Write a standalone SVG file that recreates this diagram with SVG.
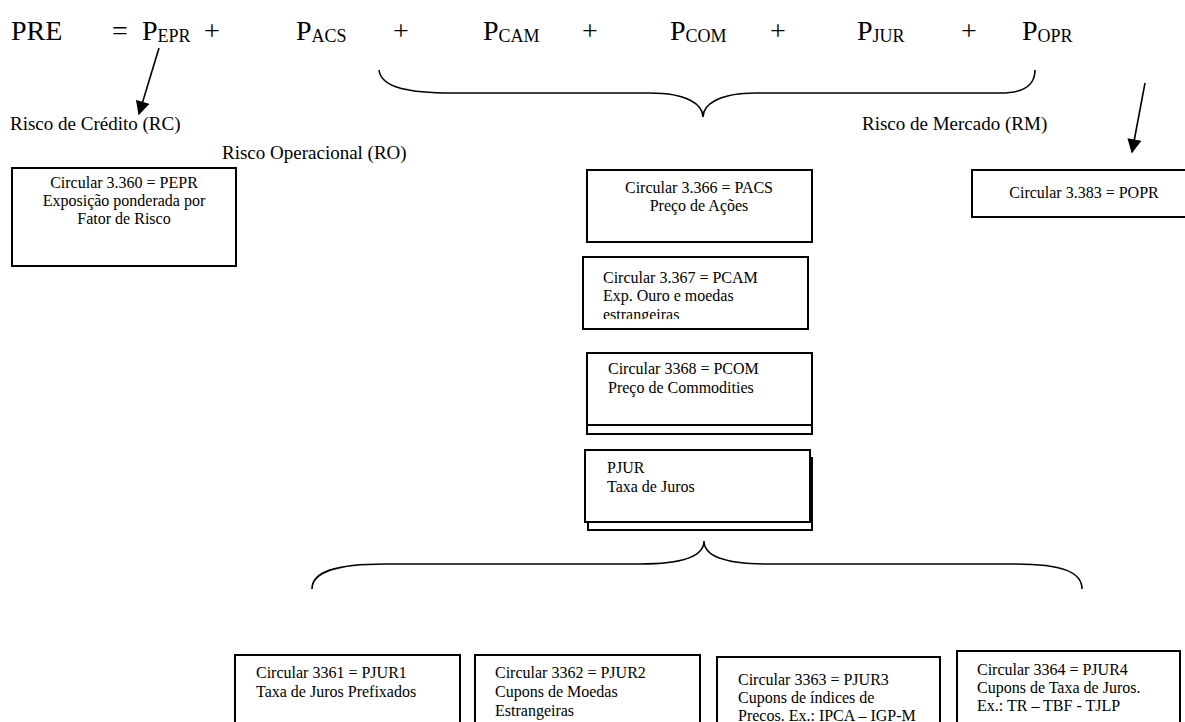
<svg xmlns="http://www.w3.org/2000/svg" width="1185" height="722" viewBox="0 0 1185 722">
<style>
text{font-family:"Liberation Serif","Times New Roman",serif;fill:#000}
.f{font-size:28px}
.s{font-size:18px}
.l{font-size:19px}
.b{font-size:16px}
.box{fill:#fff;stroke:#000;stroke-width:2}
.c{fill:none;stroke:#000;stroke-width:1.6}
</style>
<defs>
<marker id="ah" viewBox="0 0 10 10" refX="9" refY="5" markerWidth="15" markerHeight="14" markerUnits="userSpaceOnUse" orient="auto"><path d="M0,0 L10,5 L0,10 z" fill="#000"/></marker>
<clipPath id="clipCam"><rect x="584" y="258" width="223" height="61"/></clipPath>
<clipPath id="clipB2"><rect x="476" y="656" width="223" height="66"/></clipPath>
</defs>
<g id="formula">
<text class="f" x="11" y="40">PRE</text>
<text class="f" x="112" y="40">=</text>
<text class="f" x="142" y="40">P<tspan class="s" dy="2">EPR</tspan></text>
<text class="f" x="204" y="40">+</text>
<text class="f" x="296" y="40">P<tspan class="s" dy="2">ACS</tspan></text>
<text class="f" x="393" y="40">+</text>
<text class="f" x="483" y="40">P<tspan class="s" dy="2">CAM</tspan></text>
<text class="f" x="582" y="40">+</text>
<text class="f" x="670" y="40">P<tspan class="s" dy="2">COM</tspan></text>
<text class="f" x="770" y="40">+</text>
<text class="f" x="857" y="40">P<tspan class="s" dy="2">JUR</tspan></text>
<text class="f" x="961" y="40">+</text>
<text class="f" x="1022" y="40">P<tspan class="s" dy="2">OPR</tspan></text>
</g>
<g id="labels">
<text class="l" x="10" y="130">Risco de Crédito (RC)</text>
<text class="l" x="222" y="159">Risco Operacional (RO)</text>
<text class="l" x="862" y="130">Risco de Mercado (RM)</text>
</g>
<g id="connectors">
<line class="c" x1="159" y1="48" x2="139" y2="114" marker-end="url(#ah)"/>
<line class="c" x1="1145" y1="83" x2="1132" y2="152" marker-end="url(#ah)"/>
<path class="c" d="M379,70 C381,88 410,93 452,93 L650,93 C688,93 703,105 703,117 C703,105 718,93 756,93 L1000,93 C1025,93 1035,85 1035,70"/>
<path class="c" d="M312,589 C312,572 335,564 385,564 L640,564 C685,564 704,555 704,541 C704,555 723,564 768,564 L1015,564 C1062,564 1082,572 1082,589"/>
</g>
<g id="pepr">
<rect class="box" x="12" y="168" width="224" height="98"/>
<text class="b" x="124" y="188" text-anchor="middle">Circular 3.360 = PEPR</text>
<text class="b" x="124" y="206" text-anchor="middle">Exposição ponderada por</text>
<text class="b" x="124" y="224" text-anchor="middle">Fator de Risco</text>
</g>
<g id="pacs">
<rect class="box" x="587" y="170" width="225" height="72"/>
<text class="b" x="699" y="193" text-anchor="middle">Circular 3.366 = PACS</text>
<text class="b" x="699" y="211" text-anchor="middle">Preço de Ações</text>
</g>
<g id="pcam">
<rect class="box" x="583" y="257" width="225" height="72"/>
<g clip-path="url(#clipCam)">
<text class="b" x="603" y="283">Circular 3.367 = PCAM</text>
<text class="b" x="603" y="301">Exp. Ouro e moedas</text>
<text class="b" x="603" y="320">estrangeiras</text>
</g>
</g>
<g id="pcom">
<rect class="box" x="587" y="362" width="225" height="72"/>
<rect class="box" x="587" y="353" width="225" height="72"/>
<text class="b" x="608" y="374">Circular 3368 = PCOM</text>
<text class="b" x="608" y="393">Preço de Commodities</text>
</g>
<g id="pjur">
<rect class="box" x="588" y="458" width="224" height="72"/>
<rect class="box" x="585" y="450" width="225" height="72"/>
<text class="b" x="607" y="473">PJUR</text>
<text class="b" x="607" y="492">Taxa de Juros</text>
</g>
<g id="popr">
<rect class="box" x="972" y="170" width="220" height="47"/>
<text class="b" x="1084" y="198" text-anchor="middle">Circular 3.383 = POPR</text>
</g>
<g id="pjur1">
<rect class="box" x="235" y="655" width="225" height="80"/>
<text class="b" x="256" y="678">Circular 3361 = PJUR1</text>
<text class="b" x="256" y="697">Taxa de Juros Prefixados</text>
</g>
<g id="pjur2">
<rect class="box" x="475" y="655" width="225" height="80"/>
<g clip-path="url(#clipB2)">
<text class="b" x="495" y="678">Circular 3362 = PJUR2</text>
<text class="b" x="495" y="697">Cupons de Moedas</text>
<text class="b" x="495" y="716">Estrangeiras</text>
</g>
</g>
<g id="pjur3">
<rect class="box" x="717" y="657" width="223" height="80"/>
<text class="b" x="738" y="685">Circular 3363 = PJUR3</text>
<text class="b" x="738" y="703">Cupons de índices de</text>
<text class="b" x="738" y="721">Precos. Ex.: IPCA – IGP-M</text>
</g>
<g id="pjur4">
<rect class="box" x="957" y="651" width="223" height="80"/>
<text class="b" x="977" y="675">Circular 3364 = PJUR4</text>
<text class="b" x="977" y="693">Cupons de Taxa de Juros.</text>
<text class="b" x="977" y="711">Ex.: TR – TBF - TJLP</text>
</g>
</svg>
